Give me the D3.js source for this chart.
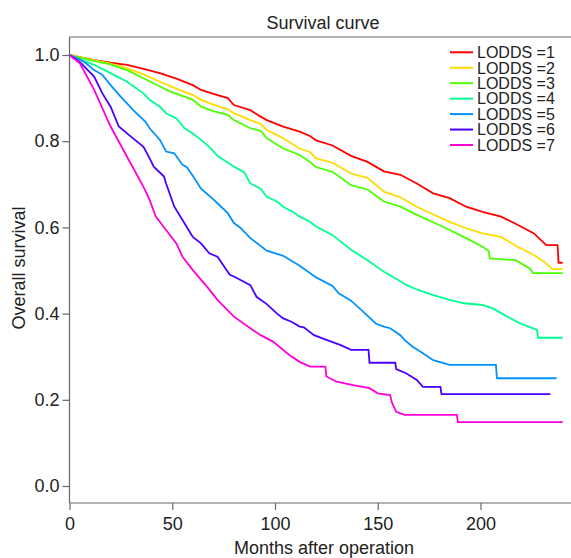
<!DOCTYPE html>
<html>
<head>
<meta charset="utf-8">
<script src="https://cdn.jsdelivr.net/npm/d3@7"></script>
<style>
  body { margin: 0; background: #fff; }
  text { font-family: "Liberation Sans", Arial, Helvetica, sans-serif; fill: #222; }
</style>
</head>
<body>
<div id="chart"></div>
<script>
// Kaplan-Meier estimates: [months, survival]
var lodds1 = [[0,1],[5,0.995],[12,0.988],[20,0.982],[28,0.977],[36,0.968],[44,0.958],[52,0.945],[60,0.930],
  [64,0.919],[70,0.910],[77,0.900],[80,0.884],[88,0.872],[93,0.857],[96,0.849],[104,0.834],[112,0.822],
  [117,0.812],[120,0.802],[128,0.790],[137,0.766],[145,0.752],[153,0.730],[161,0.722],[169,0.702],
  [177,0.679],[185,0.668],[193,0.648],[201,0.636],[210,0.625],[218,0.606],[226,0.586],[232,0.559],
  [237.5,0.559],[238,0.518],[240,0.518]];
var lodds2 = [[0,1],[10,0.990],[20,0.980],[28,0.969],[36,0.955],[44,0.938],[52,0.922],[60,0.907],[64,0.896],
  [70,0.885],[77,0.874],[80,0.865],[88,0.849],[93,0.840],[96,0.826],[104,0.807],[112,0.783],[117,0.775],
  [120,0.760],[128,0.750],[137,0.725],[145,0.715],[153,0.683],[161,0.670],[169,0.648],[177,0.630],
  [185,0.613],[193,0.598],[201,0.586],[210,0.578],[218,0.555],[226,0.536],[231,0.520],[235,0.503],[240,0.503]];
var lodds3 = [[0,1],[10,0.988],[20,0.978],[28,0.965],[36,0.946],[44,0.927],[49,0.915],[55,0.905],[60,0.896],
  [64,0.880],[70,0.870],[77,0.861],[80,0.849],[88,0.830],[93,0.824],[96,0.807],[104,0.783],[112,0.768],
  [117,0.752],[120,0.740],[128,0.729],[137,0.698],[145,0.688],[153,0.660],[161,0.648],[169,0.629],
  [177,0.612],[185,0.594],[193,0.575],[201,0.555],[204,0.545],[204.5,0.528],[217,0.524],[224,0.505],
  [225.5,0.494],[240,0.494]];
var lodds4 = [[0,1],[5,0.990],[12,0.977],[20,0.958],[28,0.938],[36,0.911],[39,0.896],[44,0.880],[47,0.865],
  [52,0.853],[56,0.830],[60,0.818],[64,0.803],[68,0.787],[72,0.766],[80,0.741],[85,0.728],[88,0.702],
  [93,0.690],[96,0.671],[101,0.660],[104,0.648],[109,0.635],[112,0.625],[117,0.613],[120,0.602],
  [128,0.582],[137,0.548],[145,0.524],[153,0.497],[160,0.478],[164,0.466],[169,0.456],[177,0.443],
  [185,0.432],[192,0.424],[201,0.420],[206,0.412],[213,0.393],[219,0.378],[227.5,0.362],[228,0.344],[240,0.344]];
var lodds5 = [[0,1],[5,0.990],[8,0.981],[12,0.965],[16,0.954],[20,0.930],[25,0.903],[31,0.872],[37,0.845],
  [39,0.830],[44,0.803],[47,0.776],[51,0.772],[55,0.745],[57,0.740],[60,0.720],[64,0.690],[70,0.665],
  [72,0.656],[77,0.633],[80,0.610],[83,0.600],[88,0.575],[96,0.546],[104,0.534],[112,0.511],[120,0.484],
  [128,0.464],[131,0.447],[137,0.430],[143,0.404],[149,0.377],[153,0.370],[156,0.366],[161,0.350],
  [163,0.339],[167,0.323],[172,0.308],[177,0.292],[185,0.281],[207.5,0.281],[208,0.250],[237,0.250]];
var lodds6 = [[0,1],[5,0.984],[12,0.950],[16,0.911],[20,0.880],[24,0.834],[29,0.814],[36,0.787],[39,0.760],
  [41,0.741],[46,0.718],[47,0.702],[51,0.648],[55,0.617],[60,0.578],[64,0.563],[68,0.540],[72,0.532],
  [78,0.490],[80,0.486],[88,0.466],[91,0.439],[96,0.422],[101,0.400],[104,0.389],[108,0.381],[112,0.370],
  [114,0.368],[119,0.350],[125,0.339],[132,0.327],[137,0.316],[145.5,0.316],[146,0.286],[158.5,0.286],
  [159,0.271],[164,0.261],[169,0.246],[172,0.230],[180.5,0.230],[181,0.213],[234,0.213]];
var lodds7 = [[0,1],[5,0.981],[12,0.919],[20,0.834],[28,0.764],[36,0.694],[39,0.664],[42,0.625],[47,0.594],
  [52,0.563],[55,0.532],[60,0.501],[67,0.462],[72,0.432],[80,0.393],[88,0.366],[93,0.350],[99,0.335],
  [107,0.304],[112,0.288],[117,0.277],[124.5,0.277],[125,0.254],[130,0.242],[138,0.234],[146,0.227],
  [150,0.215],[156,0.211],[157,0.192],[159,0.172],[163,0.165],[188.5,0.165],[189,0.148],[240,0.148]];

var groups = ["LODDS =1", "LODDS =2", "LODDS =3", "LODDS =4", "LODDS =5", "LODDS =6", "LODDS =7"];
var colors = ["#FF0000", "#FFDB00", "#49FF00", "#00FF92", "#0092FF", "#4900FF", "#FF00DB"];
var xTicks = [0, 50, 100, 150, 200];
var yTicks = [0, 0.2, 0.4, 0.6, 0.8, 1.0];

function init() {
    var w = 571, h = 558;
    var left = 69.5, top = 37, bottom = 503, right = 571;
    var series = [lodds1, lodds2, lodds3, lodds4, lodds5, lodds6, lodds7];

    var svg = d3.select("#chart").append("svg")
                .attr("width", w)
                .attr("height", h);

    var x = d3.scaleLinear().domain([0, 200]).range([left, 480.5]);
    var y = d3.scaleLinear().domain([0, 1]).range([486, 55]);

    // frame: left, top and bottom lines
    var frame = svg.append("g").attr("stroke", "#666").attr("stroke-width", 1.2);
    frame.append("line").attr("x1", left).attr("x2", left).attr("y1", top).attr("y2", bottom);
    frame.append("line").attr("x1", left).attr("x2", right).attr("y1", top).attr("y2", top);
    frame.append("line").attr("x1", left).attr("x2", right).attr("y1", bottom).attr("y2", bottom);

    // axes
    var yAxis = svg.append("g")
       .attr("transform", "translate(" + left + ",0)")
       .call(d3.axisLeft(y).tickValues(yTicks).tickFormat(d3.format(".1f")).tickSize(7).tickPadding(3));
    var xAxis = svg.append("g")
       .attr("transform", "translate(0," + bottom + ")")
       .call(d3.axisBottom(x).tickValues(xTicks).tickSize(7).tickPadding(7));
    [xAxis, yAxis].forEach(function(g) {
        g.select(".domain").remove();
        g.selectAll(".tick line").attr("stroke", "#666").attr("stroke-width", 1.2);
        g.selectAll(".tick text").attr("fill", "#222").style("font-size", "18px")
         .style("font-family", '"Liberation Sans", Arial, sans-serif');
    });

    // curves
    var line = d3.line()
                 .x(function(d) { return x(d[0]); })
                 .y(function(d) { return y(d[1]); });
    svg.append("g").selectAll("path")
       .data(series)
       .join("path")
       .attr("d", line)
       .attr("fill", "none")
       .attr("stroke", function(d, i) { return colors[i]; })
       .attr("stroke-width", 1.8)
       .attr("stroke-linejoin", "miter");

    // title and axis labels
    svg.append("text").attr("x", 323).attr("y", 28.5).attr("text-anchor", "middle")
       .style("font-size", "18px").text("Survival curve");
    svg.append("text").attr("x", 324).attr("y", 554).attr("text-anchor", "middle")
       .style("font-size", "18px").text("Months after operation");
    svg.append("text").attr("transform", "translate(25,268) rotate(-90)").attr("text-anchor", "middle")
       .style("font-size", "18px").text("Overall survival");

    // legend
    var legend = svg.append("g").selectAll("g")
       .data(groups)
       .join("g")
       .attr("transform", function(d, i) { return "translate(450," + (52.3 + i * 15.45) + ")"; });
    legend.append("line")
       .attr("x1", 0).attr("x2", 23)
       .attr("stroke", function(d, i) { return colors[i]; })
       .attr("stroke-width", 2);
    legend.append("text")
       .attr("x", 27).attr("dy", "0.36em")
       .style("font-size", "16px")
       .text(function(d) { return d; });
}

window.onload = init;
</script>
</body>
</html>
